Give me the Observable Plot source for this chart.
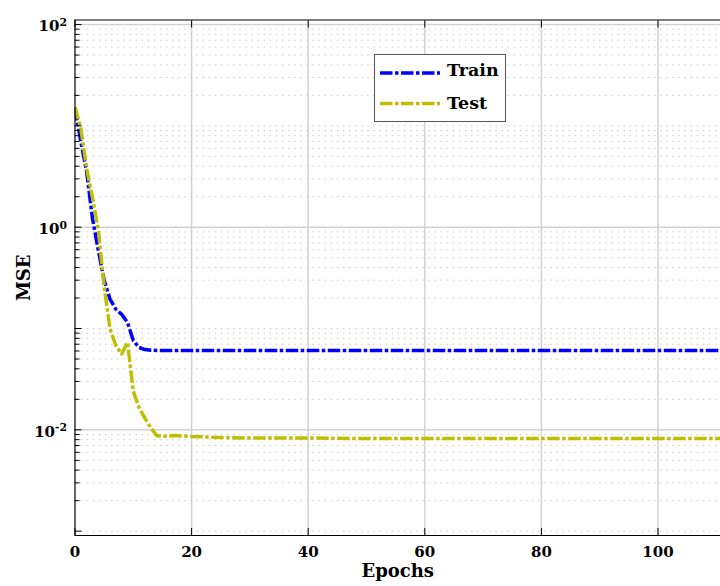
<!DOCTYPE html>
<html>
<head>
<meta charset="utf-8">
<script src="https://cdn.jsdelivr.net/npm/d3@7"></script>
<script src="https://cdn.jsdelivr.net/npm/@observablehq/plot@0.6"></script>
<style>
  html, body { margin: 0; padding: 0; background: #fff; overflow: hidden; }
  #wrap { position: relative; width: 720px; height: 586px; }
  #legend { position: absolute; left: 374px; top: 54px; width: 132px; height: 68px;
            border: 1px solid #555; background: #fff; box-sizing: border-box; }
  #legend svg { display: block; }
</style>
</head>
<body>
<div id="wrap"></div>
<script>
// ---- data ----
const seriesNames = ["Train", "Test"];
const seriesColors = ["#0000ff", "#bfbf00"];

const trainEpochs = [0, 1, 2, 3, 4, 5, 6, 7, 8, 9, 10, 11, 12, 13, 15, 20, 30, 40, 50, 60, 70, 80, 90, 100, 112];
const trainMSE    = [15, 7.0, 3.5, 1.22, 0.59, 0.30, 0.195, 0.155, 0.138, 0.115, 0.076, 0.065, 0.062, 0.061, 0.0607, 0.0607, 0.0607, 0.0607, 0.0607, 0.0607, 0.0607, 0.0607, 0.0607, 0.0607, 0.0607];

const testEpochs = [0, 1, 2, 3, 4, 5, 6, 7, 8, 9, 10, 11, 12, 13, 14, 15, 17, 20, 25, 30, 40, 50, 60, 70, 80, 90, 100, 112];
const testMSE    = [15.3, 9.5, 3.8, 1.95, 0.95, 0.26, 0.10, 0.068, 0.056, 0.073, 0.024, 0.0165, 0.013, 0.0105, 0.0088, 0.0086, 0.0088, 0.0086, 0.0084, 0.0083, 0.0083, 0.0082, 0.0082, 0.0082, 0.0082, 0.0082, 0.0082, 0.0082];

const xTicks = [0, 20, 40, 60, 80, 100];
const yLabelTicks = [1e2, 1e0, 1e-2];
const yDecades = [1e-3, 1e-2, 1e-1, 1e0, 1e1, 1e2];
const xDomain = [0, 110.72];
const yDomain = [9.06e-4, 110.9];

// build tables
const rows = [];
trainEpochs.forEach((e, i) => rows.push({series: "Train", epoch: e, mse: trainMSE[i]}));
testEpochs.forEach((e, i) => rows.push({series: "Test", epoch: e, mse: testMSE[i]}));

const minorTicks = [];
for (let k = -4; k <= 1; k++) for (let m = 2; m <= 9; m++) {
  const v = m * Math.pow(10, k);
  if (v >= yDomain[0] && v <= yDomain[1]) minorTicks.push(v);
}
const dottedGrid = minorTicks.concat(yDecades.filter(d => !yLabelTicks.includes(d)));

const FONT = "DejaVu Serif";
const dash = "12.5,2.5,3.5,2.5";

const chart = Plot.plot({
  width: 720,
  height: 586,
  marginLeft: 74.5,
  marginRight: 0,
  marginTop: 19.5,
  marginBottom: 51,
  style: {fontFamily: FONT, fontWeight: "bold", fontSize: "15px", color: "#000", background: "#fff"},
  x: {domain: xDomain, axis: null},
  y: {type: "log", domain: yDomain, axis: null},
  marks: [
    Plot.ruleY(dottedGrid, {stroke: "#cbcbcb", strokeWidth: 1, strokeDasharray: "1.5,4.6"}),
    Plot.ruleY(yLabelTicks, {stroke: "#d2d2d2", strokeWidth: 1.5}),
    Plot.ruleX(xTicks.filter(d => d > 0), {stroke: "#d2d2d2", strokeWidth: 1.5}),
    Plot.line(rows.filter(d => d.series === "Train"), {x: "epoch", y: "mse", stroke: seriesColors[0], strokeWidth: 3.5, strokeDasharray: dash, strokeLinecap: "butt", clip: true}),
    Plot.line(rows.filter(d => d.series === "Test"), {x: "epoch", y: "mse", stroke: seriesColors[1], strokeWidth: 3.5, strokeDasharray: dash, strokeLinecap: "butt", clip: true}),
    // frame lines
    Plot.ruleX([xDomain[0]], {stroke: "#000", strokeWidth: 1.2}),
    Plot.ruleY([yDomain[0]], {stroke: "#000", strokeWidth: 1.2}),
    Plot.ruleY([yDomain[1]], {stroke: "#000", strokeWidth: 1.2}),
    // inward ticks
    Plot.axisY({ticks: yDecades, tickSize: -7, tickFormat: () => "", anchor: "left", label: null}),
    Plot.axisY({ticks: minorTicks, tickSize: -5, tickFormat: () => "", anchor: "left", label: null}),
    Plot.axisX({ticks: xTicks, tickSize: -7, tickFormat: () => "", anchor: "bottom", label: null}),
    Plot.axisX({ticks: xTicks, tickSize: -7, tickFormat: () => "", anchor: "top", label: null}),
    // labels
    Plot.axisY({ticks: yLabelTicks, tickSize: 0, tickPadding: 8, dy: 2, anchor: "left",
      tickFormat: d => "10^" + Math.round(Math.log10(d)),
      label: "MSE", labelAnchor: "center", labelOffset: 58, labelArrow: "none", fontSize: 15}),
    Plot.axisX({ticks: xTicks, tickSize: 0, tickPadding: 11, anchor: "bottom",
      tickFormat: d => String(d),
      label: "Epochs", labelAnchor: "center", labelOffset: 41, labelArrow: "none", fontSize: 15})
  ]
});

// superscripts for the log tick labels, bigger axis titles
d3.select(chart).selectAll("text").each(function() {
  const t = this.textContent;
  if (/^10\^-?\d+$/.test(t)) {
    const exp = t.split("^")[1];
    const sel = d3.select(this);
    sel.text("");
    sel.append("tspan").text("10");
    sel.append("tspan").attr("dy", "-0.5em").attr("font-size", "0.72em").text(exp);
  } else if (t.startsWith("MSE")) {
    d3.select(this).text("MSE").attr("font-size", 18);
  } else if (t.startsWith("Epochs")) {
    d3.select(this).text("Epochs").attr("font-size", 18);
  }
});

const wrap = document.getElementById("wrap");
wrap.appendChild(chart);

// legend overlay
const legend = document.createElement("div");
legend.id = "legend";
wrap.appendChild(legend);
const ls = d3.select(legend).append("svg").attr("width", 130).attr("height", 66);
seriesNames.forEach((name, i) => {
  const yy = [18, 48.5][i];
  ls.append("line").attr("x1", 5).attr("x2", 65).attr("y1", yy).attr("y2", yy)
    .attr("stroke", seriesColors[i]).attr("stroke-width", 3.5).attr("stroke-dasharray", dash);
  ls.append("text").attr("x", 72).attr("y", [21, 54][i])
    .attr("font-family", FONT).attr("font-weight", "bold").attr("font-size", 17.5)
    .text(name);
});
</script>
</body>
</html>
